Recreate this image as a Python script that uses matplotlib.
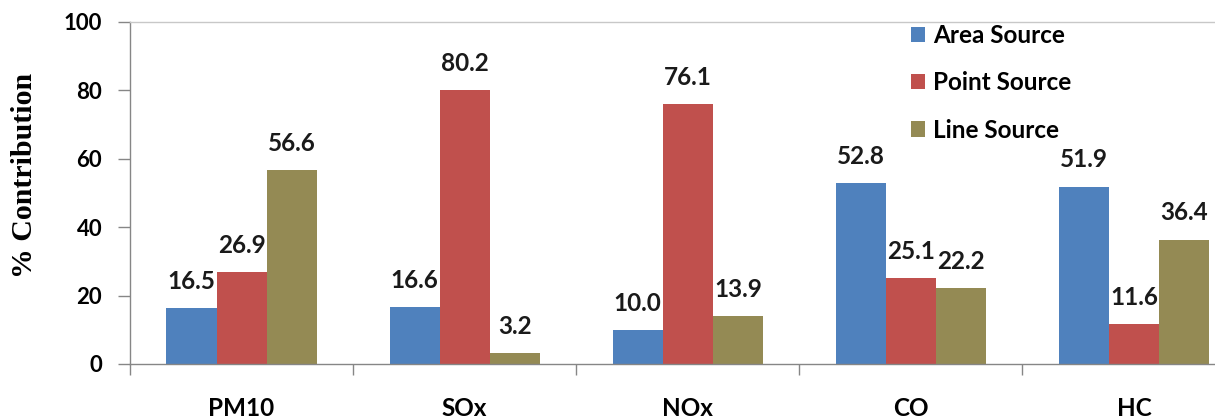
import matplotlib
matplotlib.use("Agg")
import matplotlib.pyplot as plt
import numpy as np
from matplotlib.ticker import FixedLocator

categories = ["PM10", "SOx", "NOx", "CO", "HC"]
series_names = ["Area Source", "Point Source", "Line Source"]
area = [16.5, 16.6, 10.0, 52.8, 51.9]
point = [26.9, 80.2, 76.1, 25.1, 11.6]
line = [56.6, 3.2, 13.9, 22.2, 36.4]
yticks = [0, 20, 40, 60, 80, 100]
colors = ["#4F81BD", "#C0504D", "#948A54"]

W, H = 1215, 420
fig = plt.figure(figsize=(W / 100, H / 100), dpi=100)
ax = fig.add_axes([130 / W, 1 - 364 / H, 1115.5 / W, (364 - 22) / H])

FONT = "Lato"
x = np.arange(len(categories)) + 0.5
bw = 0.2245
for k, (vals, c, name) in enumerate(zip([area, point, line], colors, series_names)):
    xs = x + (k - 1) * bw
    ax.bar(xs, vals, width=bw, color=c, label=name, zorder=2)
    for xi, v in zip(xs, vals):
        ax.annotate(f"{v:.1f}", (xi, v), xytext=(0, 13.7), textcoords="offset points",
                    ha="center", va="baseline", fontsize=17.5, fontweight="bold",
                    family=FONT, color="#1a1a1a")

ax.set_xlim(0, len(categories))
ax.set_ylim(0, 100)
ax.set_yticks(yticks)
ax.set_yticklabels([str(t) for t in yticks], fontsize=16, fontweight="bold", family=FONT)
ax.set_xticks(x)
ax.set_xticklabels(categories, fontsize=17.5, fontweight="bold", family=FONT)
ax.xaxis.set_minor_locator(FixedLocator(np.arange(len(categories) + 1)))
ax.tick_params(axis="x", which="major", length=0, pad=24)
ax.tick_params(axis="x", which="minor", length=8, direction="out", color="#868686", width=1)
ax.tick_params(axis="y", length=9, direction="out", color="#868686", width=1, pad=11)

for s in ["left", "bottom"]:
    ax.spines[s].set_color("#868686")
    ax.spines[s].set_linewidth(1)
ax.spines["top"].set_color("#c8c8c8")
ax.spines["top"].set_linewidth(1)
ax.spines["right"].set_visible(False)

fig.text(25 / W, 1 - 175 / H, "% Contribution", rotation=90, ha="center", va="center",
         fontsize=21.5, fontweight="bold", family="Liberation Serif")

leg = ax.legend(loc="upper left", bbox_to_anchor=(911 / W, 1 - 24 / H),
                bbox_transform=fig.transFigure, frameon=False, borderpad=0,
                borderaxespad=0, handlelength=0.58, handleheight=0.58,
                handletextpad=0.33, labelspacing=1.0,
                prop={"family": FONT, "size": 17.5, "weight": "bold"})

fig.savefig("out.png", dpi=100)
